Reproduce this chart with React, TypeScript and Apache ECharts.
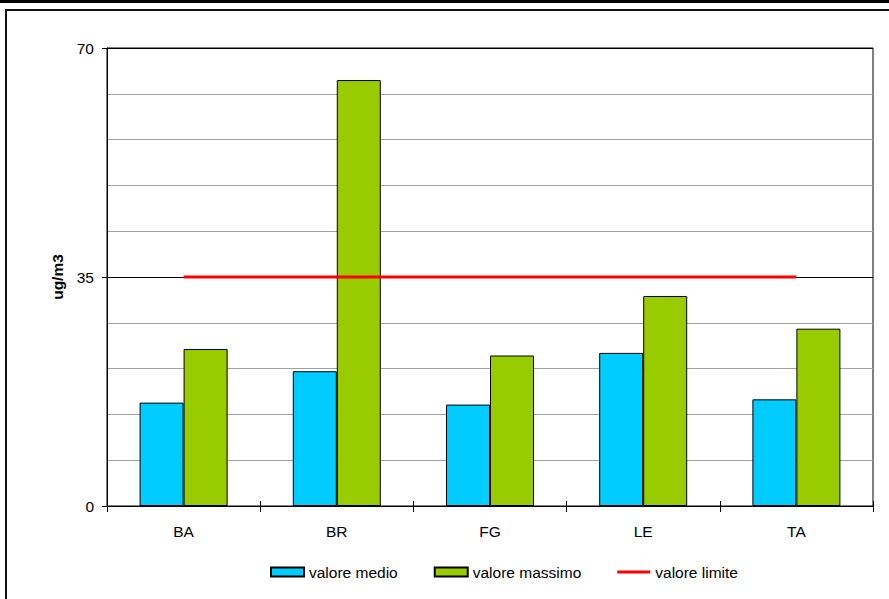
import React, { useEffect, useRef } from "react";
import * as echarts from "echarts";

// Stations and their measured concentrations (ug/m3)
const stations = ["BA", "BR", "FG", "LE", "TA"];
const meanValues = [15.8, 20.6, 15.5, 23.4, 16.3];
const maxValues = [24.0, 65.1, 23.0, 32.1, 27.1];
const limitValues = [35, 35, 35, 35, 35];
const seriesNames = ["valore medio", "valore massimo", "valore limite"];

const FONT = "Arial, 'Liberation Sans', sans-serif";

export default function App() {
  const ref = useRef<HTMLDivElement>(null);

  useEffect(() => {
    if (!ref.current) return;
    const chart = echarts.init(ref.current, null, { renderer: "svg" });
    chart.setOption({
      animation: false,
      backgroundColor: "#ffffff",
      textStyle: { fontFamily: FONT, color: "#000" },
      graphic: [
        {
          type: "rect",
          shape: { x: 0, y: 0, width: 889, height: 3 },
          style: { fill: "#000" },
        },
        {
          type: "rect",
          shape: { x: 6, y: 10, width: 900, height: 620 },
          style: { fill: "none", stroke: "#111", lineWidth: 2 },
        },
      ],
      grid: {
        left: 107,
        top: 48,
        right: 16,
        bottom: 93,
        show: true,
        borderColor: "#000",
        borderWidth: 1,
        backgroundColor: "transparent",
      },
      legend: {
        left: 270,
        top: 564,
        padding: 0,
        itemWidth: 33,
        itemHeight: 9,
        itemGap: 36,
        textStyle: { fontSize: 15.5, fontFamily: FONT, color: "#000" },
        data: [
          { name: seriesNames[0], icon: "rect" },
          { name: seriesNames[1], icon: "rect" },
          { name: seriesNames[2], icon: "path://M0,0H33V3H0Z" },
        ],
      },
      xAxis: [
        {
          type: "category",
          data: stations,
          axisLine: { lineStyle: { color: "#000", width: 1 } },
          axisTick: { show: true, length: 6, lineStyle: { color: "#000" } },
          axisLabel: { margin: 17, fontSize: 15.5, fontFamily: FONT, color: "#000" },
        },
        {
          type: "category",
          data: stations,
          position: "bottom",
          axisLine: { show: false },
          axisTick: { show: true, inside: true, length: 5, lineStyle: { color: "#000" } },
          axisLabel: { show: false },
        },
      ],
      yAxis: [
        {
          type: "value",
          min: 0,
          max: 70,
          interval: 35,
          z: 1,
          name: "ug/m3",
          nameLocation: "middle",
          nameRotate: 90,
          nameGap: 38,
          nameTextStyle: { fontSize: 15.5, fontWeight: "bold", fontFamily: FONT, color: "#000" },
          axisLine: { show: true, lineStyle: { color: "#000", width: 1 } },
          axisTick: { show: true, length: 5, lineStyle: { color: "#000" } },
          axisLabel: { margin: 13, fontSize: 15.5, fontFamily: FONT, color: "#000" },
          splitLine: { show: true, lineStyle: { color: "#000", width: 1 } },
        },
        {
          type: "value",
          min: 0,
          max: 70,
          interval: 7,
          position: "right",
          z: 0,
          axisLine: { show: false },
          axisTick: { show: false },
          axisLabel: { show: false },
          splitLine: { show: true, lineStyle: { color: "#a0a0a0", width: 1 } },
        },
      ],
      series: [
        {
          name: seriesNames[0],
          type: "bar",
          data: meanValues,
          barWidth: 44,
          barGap: "0%",
          itemStyle: { color: "#00CCFF", borderColor: "#000", borderWidth: 1 },
        },
        {
          name: seriesNames[1],
          type: "bar",
          data: maxValues,
          barWidth: 44,
          barGap: "0%",
          itemStyle: { color: "#99CC00", borderColor: "#000", borderWidth: 1 },
        },
        {
          name: seriesNames[2],
          type: "line",
          data: limitValues,
          symbol: "none",
          z: 5,
          lineStyle: { color: "#FF0000", width: 3 },
          itemStyle: { color: "#FF0000" },
        },
      ],
    });
    return () => chart.dispose();
  }, []);

  return (
    <div
      ref={ref}
      style={{ position: "absolute", left: 0, top: 0, width: 889, height: 599 }}
    />
  );
}
